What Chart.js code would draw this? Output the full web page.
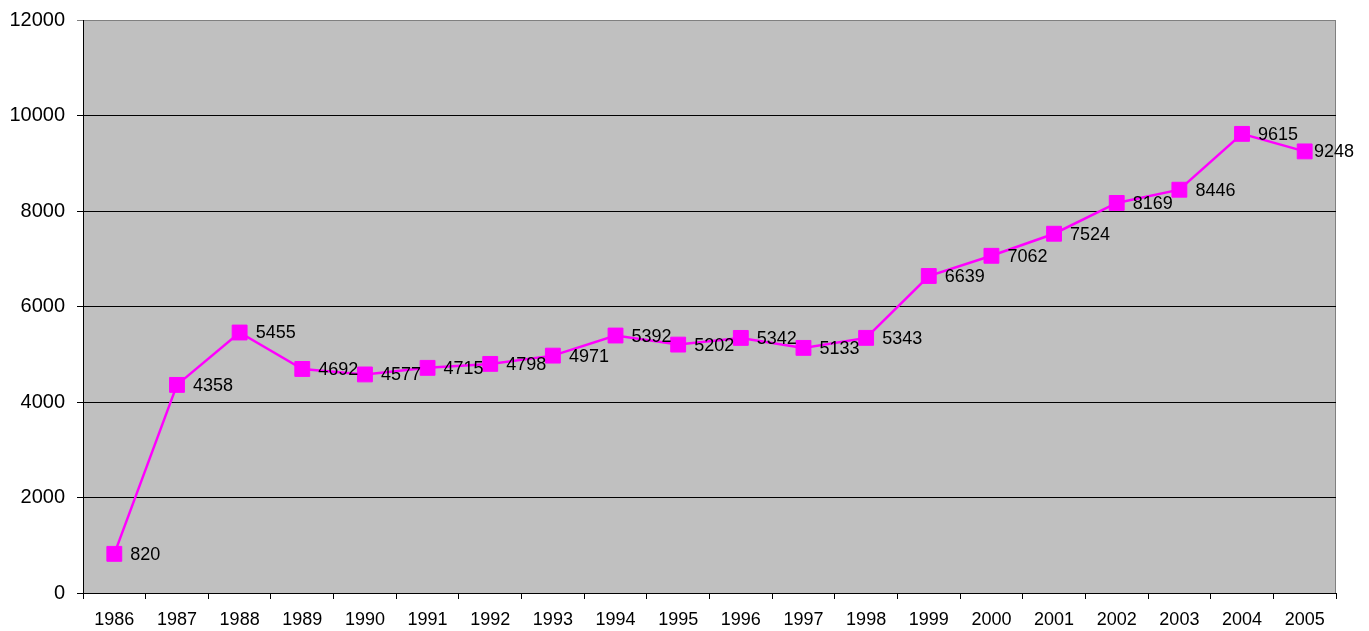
<!DOCTYPE html>
<html>
<head>
<meta charset="utf-8">
<script src="https://cdn.jsdelivr.net/npm/chart.js@4/dist/chart.umd.min.js"></script>
<style>
  html, body { margin: 0; padding: 0; background: #ffffff; }
  #wrap { width: 1369px; height: 631px; position: relative; }
</style>
</head>
<body>
<div id="wrap"><canvas id="chart"></canvas></div>
<script>
// Yearly values, 1986–2005
const years = ['1986','1987','1988','1989','1990','1991','1992','1993','1994','1995',
               '1996','1997','1998','1999','2000','2001','2002','2003','2004','2005'];
const values = [820, 4358, 5455, 4692, 4577, 4715, 4798, 4971, 5392, 5202,
                5342, 5133, 5343, 6639, 7062, 7524, 8169, 8446, 9615, 9248];
const yTicks = [0, 2000, 4000, 6000, 8000, 10000, 12000];

const FONT = '"Liberation Sans", Arial, sans-serif';
const MAGENTA = '#FF00FF';

// Gray plot background with a gray frame on the top and right edges
const plotBackground = {
  id: 'plotBackground',
  beforeDraw(chart) {
    const { ctx, chartArea: a } = chart;
    ctx.save();
    ctx.fillStyle = '#C0C0C0';
    ctx.fillRect(a.left, a.top, a.right - a.left, a.bottom - a.top);
    ctx.strokeStyle = '#808080';
    ctx.lineWidth = 1;
    ctx.beginPath();
    ctx.moveTo(a.left, a.top + 0.5);
    ctx.lineTo(a.right - 0.5, a.top + 0.5);
    ctx.lineTo(a.right - 0.5, a.bottom);
    ctx.stroke();
    ctx.restore();
  }
};

// Value labels placed to the right of each marker
const valueLabels = {
  id: 'valueLabels',
  afterDatasetsDraw(chart) {
    const { ctx } = chart;
    const meta = chart.getDatasetMeta(0);
    ctx.save();
    ctx.font = '18px ' + FONT;
    ctx.fillStyle = '#000000';
    ctx.textBaseline = 'middle';
    ctx.textAlign = 'left';
    meta.data.forEach((pt, i) => {
      const text = String(values[i]);
      const w = ctx.measureText(text).width;
      let x = pt.x + 16;
      const maxRight = chart.width - 15;
      if (x + w > maxRight) x = maxRight - w;
      ctx.fillText(text, x, pt.y + 1);
    });
    ctx.restore();
  }
};

new Chart(document.getElementById('chart'), {
  type: 'line',
  data: {
    labels: years,
    datasets: [{
      data: values,
      borderColor: MAGENTA,
      backgroundColor: MAGENTA,
      borderWidth: 2.5,
      pointStyle: 'rect',
      pointRadius: 10.5,
      pointHoverRadius: 10.5,
      pointBorderWidth: 1,
      pointBorderColor: MAGENTA,
      pointBackgroundColor: MAGENTA,
      tension: 0,
      fill: false
    }]
  },
  options: {
    responsive: true,
    maintainAspectRatio: false,
    animation: false,
    layout: { padding: { top: 20, right: 33, left: 0, bottom: 0 } },
    plugins: {
      legend: { display: false },
      tooltip: { enabled: false }
    },
    scales: {
      x: {
        type: 'category',
        offset: true,
        grid: {
          offset: true,
          drawOnChartArea: false,
          drawTicks: true,
          tickLength: 6,
          color: '#000000'
        },
        border: { color: '#000000', width: 1 },
        ticks: {
          color: '#000000',
          font: { family: FONT, size: 18 },
          padding: 10,
          maxRotation: 0,
          autoSkip: false
        },
        afterFit(scale) {
          scale.height = 38;
          scale.paddingLeft = 0;
          scale.paddingRight = 0;
        }
      },
      y: {
        min: 0,
        max: 12000,
        afterBuildTicks(scale) { scale.ticks = yTicks.map(v => ({ value: v })); },
        grid: {
          color: ctx => (ctx.tick && ctx.tick.value === 12000) ? '#808080' : '#000000',
          lineWidth: 1,
          drawTicks: true,
          tickLength: 6
        },
        border: { color: '#000000', width: 1 },
        ticks: {
          color: '#000000',
          font: { family: FONT, size: 20 },
          padding: 12,
          callback: v => String(v)
        },
        afterFit(scale) {
          scale.width = 83;
          scale.paddingTop = 0;
          scale.paddingBottom = 0;
        }
      }
    }
  },
  plugins: [plotBackground, valueLabels]
});
</script>
</body>
</html>
